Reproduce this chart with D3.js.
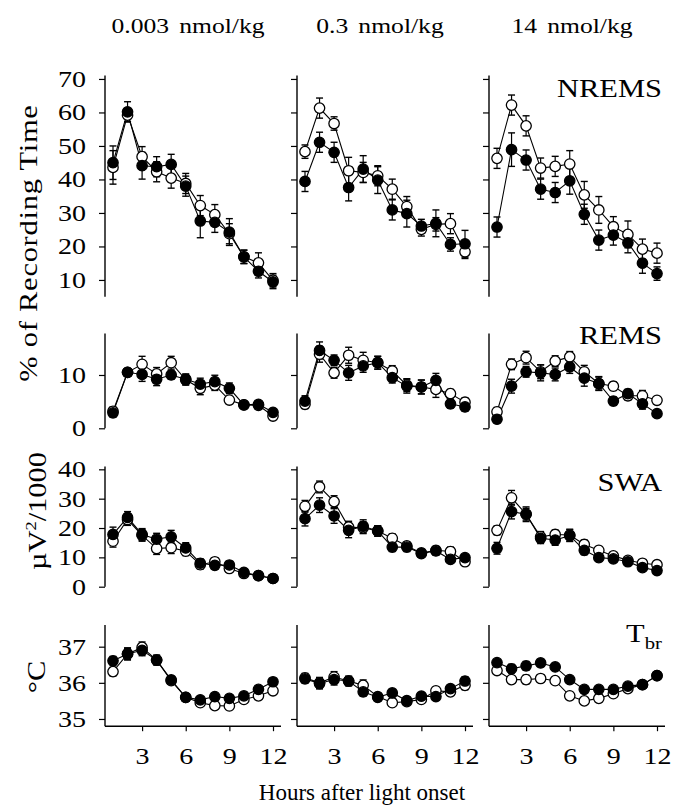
<!DOCTYPE html>
<html>
<head>
<meta charset="utf-8">
<script src="https://cdn.jsdelivr.net/npm/d3@7"></script>
<style>
body { margin: 0; background: #fff; }
text { font-family: "Liberation Serif", "Times New Roman", serif; fill: #000; }
</style>
</head>
<body>
<svg id="fig" width="674" height="810"></svg>
<script>
// hours after light onset
var hours = [1, 2, 3, 4, 5, 6, 7, 8, 9, 10, 11, 12];
var doses = ["0.003 nmol/kg", "0.3 nmol/kg", "14 nmol/kg"];
var xTicks = [3, 6, 9, 12];

// NREMS, % of recording time (one list per dose)
var nremsOpen = [
	[43.6, 59.2, 46.8, 42.3, 40.4, 38.8, 32.2, 29.5, 23.8, 16.9, 15.1, 9.9],
	[48.3, 61.3, 56.7, 42.6, 42.1, 41.1, 37.1, 31.9, 25.1, 26.6, 26.8, 18.4],
	[46.3, 62.2, 56.0, 43.4, 43.9, 44.6, 35.4, 30.9, 25.9, 23.6, 19.2, 18.0]
];
var nremsFilled = [
	[45.0, 60.2, 44.1, 43.8, 44.5, 38.0, 27.6, 27.2, 24.3, 16.9, 12.6, 9.4],
	[39.4, 51.1, 48.1, 37.6, 43.1, 39.8, 30.9, 29.8, 26.1, 26.9, 20.6, 20.8],
	[25.8, 48.9, 45.8, 37.1, 36.1, 39.6, 29.6, 21.9, 23.4, 21.1, 15.0, 11.9]
];
var nremsOpenSe = [
	[5, 2, 3, 3, 3, 3, 3, 3, 3, 2, 3, 2],
	[2, 3, 2, 4, 3, 3, 3, 3, 2, 2, 3, 2],
	[3, 3, 3, 3, 3, 4, 4, 4, 3, 4, 3, 3]
];
var nremsFilledSe = [
	[5, 3, 4, 3, 3, 3, 5, 3, 4, 2, 2, 2],
	[3, 3, 3, 4, 4, 4, 3, 4, 2, 4, 2, 4],
	[3, 5, 3, 3, 3, 4, 3, 3, 3, 3, 3, 2]
];

// REMS, % of recording time
var remsOpen = [
	[3.2, 10.5, 12.0, 10.2, 12.3, 9.1, 7.5, 8.1, 5.3, 4.4, 4.3, 2.3],
	[4.5, 13.9, 10.4, 13.7, 12.75, 12.3, 10.75, 8.1, 7.75, 7.3, 6.5, 4.9],
	[3.1, 12.0, 13.25, 10.6, 12.6, 13.4, 10.6, 8.4, 7.9, 6.1, 6.1, 5.25]
];
var remsFilled = [
	[2.9, 10.5, 10.1, 9.2, 10.0, 9.2, 8.3, 8.75, 7.5, 4.4, 4.5, 3.0],
	[5.1, 14.6, 12.75, 10.4, 11.7, 12.3, 9.5, 7.9, 7.75, 9.0, 4.6, 4.0],
	[1.7, 7.9, 10.6, 10.4, 10.1, 11.5, 9.4, 8.4, 5.1, 6.5, 4.6, 2.75]
];
var remsOpenSe = [
	[0.8, 0.7, 1.5, 1.2, 1.2, 1.0, 1.2, 1.0, 0.7, 0.6, 0.6, 0.6],
	[0.8, 1.5, 1.0, 1.5, 1.5, 1.2, 1.0, 1.2, 1.3, 1.5, 0.8, 0.8],
	[0.8, 1.0, 1.2, 1.3, 1.0, 1.0, 1.2, 1.2, 0.8, 0.8, 1.0, 0.7]
];
var remsFilledSe = [
	[0.8, 0.7, 1.3, 1.2, 0.8, 1.0, 1.1, 1.2, 1.0, 0.6, 0.6, 0.6],
	[1.0, 1.6, 1.0, 1.4, 1.2, 1.2, 1.0, 1.3, 1.3, 1.3, 0.8, 0.8],
	[0.7, 1.3, 1.0, 1.5, 1.2, 1.2, 1.5, 1.3, 0.8, 0.8, 1.0, 0.6]
];

// SWA, uV^2/1000
var swaOpen = [
	[15.5, 22.9, 17.5, 13.0, 13.3, 12.1, 7.5, 8.5, 6.2, 4.5, 3.8, 2.8],
	[27.4, 34.0, 29.0, 20.3, 20.1, 19.0, 16.5, 13.9, 11.5, 12.4, 12.0, 8.5],
	[19.2, 30.3, 24.7, 17.0, 17.8, 17.6, 14.4, 12.4, 10.5, 9.0, 8.0, 7.5]
];
var swaFilled = [
	[17.8, 23.6, 17.8, 16.2, 17.0, 13.2, 8.0, 7.3, 7.4, 4.9, 3.75, 2.8],
	[23.2, 27.8, 24.1, 19.2, 20.6, 19.0, 13.5, 13.5, 11.3, 12.2, 9.3, 9.9],
	[13.1, 25.6, 24.7, 16.5, 15.9, 17.4, 12.4, 9.9, 9.5, 8.5, 6.5, 5.5]
];
var swaOpenSe = [
	[2, 2, 2, 2, 2, 1.5, 1.5, 1.3, 1.2, 0.8, 0.8, 0.6],
	[2, 2, 2, 2, 2, 1.8, 1.5, 1.3, 1.3, 1.3, 1.5, 1],
	[1.5, 2.5, 2, 1.8, 1.5, 2, 1.5, 1.3, 1.2, 1, 1, 0.8]
];
var swaFilledSe = [
	[2.5, 2, 2, 2, 2.2, 1.8, 1.5, 1.3, 1.2, 0.8, 0.8, 0.6],
	[2.5, 2.5, 2.5, 2.5, 2.2, 1.8, 1.5, 1.5, 1.3, 1.5, 1.2, 1],
	[2, 2.5, 2.5, 1.8, 1.8, 2, 1.5, 1.3, 1.2, 1, 1, 0.8]
];

// brain temperature, deg C
var tbrOpen = [
	[36.31, 36.8, 36.98, 36.63, 36.06, 35.6, 35.45, 35.37, 35.36, 35.54, 35.64, 35.78],
	[36.14, 36.0, 36.16, 36.05, 35.93, 35.62, 35.45, 35.48, 35.54, 35.78, 35.75, 35.93],
	[36.34, 36.09, 36.09, 36.12, 36.06, 35.64, 35.5, 35.57, 35.7, 35.84, 35.95, 36.2]
];
var tbrFilled = [
	[36.61, 36.8, 36.9, 36.63, 36.08, 35.6, 35.53, 35.62, 35.57, 35.64, 35.82, 36.03],
	[36.11, 35.98, 36.09, 36.05, 35.75, 35.6, 35.72, 35.51, 35.63, 35.62, 35.84, 36.05],
	[36.56, 36.39, 36.47, 36.55, 36.44, 36.09, 35.82, 35.82, 35.82, 35.91, 35.95, 36.2]
];
var tbrOpenSe = [
	[0.12, 0.15, 0.15, 0.12, 0.1, 0.1, 0.08, 0.08, 0.1, 0.1, 0.1, 0.08],
	[0.12, 0.15, 0.15, 0.13, 0.15, 0.1, 0.1, 0.1, 0.1, 0.1, 0.1, 0.12],
	[0.08, 0.1, 0.12, 0.1, 0.08, 0.07, 0.06, 0.06, 0.06, 0.06, 0.06, 0.06]
];
var tbrFilledSe = [
	[0.12, 0.17, 0.15, 0.14, 0.1, 0.1, 0.08, 0.08, 0.1, 0.1, 0.1, 0.08],
	[0.12, 0.15, 0.15, 0.13, 0.12, 0.1, 0.1, 0.1, 0.1, 0.1, 0.1, 0.12],
	[0.08, 0.12, 0.12, 0.1, 0.08, 0.07, 0.06, 0.06, 0.06, 0.06, 0.06, 0.06]
];

var nremsTicks = [10, 20, 30, 40, 50, 60, 70];
var remsTicks = [0, 10];
var swaTicks = [0, 10, 20, 30, 40];
var tbrTicks = [35, 36, 37];

var rows = [
	{ name: "NREMS", open: nremsOpen, filled: nremsFilled, openSe: nremsOpenSe, filledSe: nremsFilledSe,
		domain: [5, 71], range: [296.7, 75.6], ticks: nremsTicks, labelY: 97 },
	{ name: "REMS", open: remsOpen, filled: remsFilled, openSe: remsOpenSe, filledSe: remsFilledSe,
		domain: [0, 17.8], range: [428.3, 333.4], ticks: remsTicks, labelY: 344 },
	{ name: "SWA", open: swaOpen, filled: swaFilled, openSe: swaOpenSe, filledSe: swaFilledSe,
		domain: [0, 41], range: [586.7, 466.4], ticks: swaTicks, labelY: 491 },
	{ name: "T", sub: "br", open: tbrOpen, filled: tbrFilled, openSe: tbrOpenSe, filledSe: tbrFilledSe,
		domain: [34.8, 37.6], range: [726.2, 625], ticks: tbrTicks, labelY: 642 }
];

var colLeft = [105, 297, 489];
var panelW = 176;
var K = 1.22; // the printed type is wider than Times, stretch it sideways
var svg = d3.select("#fig");

var x = d3.scaleLinear().domain([0.45, 12.55]).range([0, panelW]);

// plain text at (px,py), stretched sideways by k
function label(px, py, rot, size, str, k) {
	k = k || K;
	return svg.append("text")
		.attr("transform", "translate(" + px + "," + py + ")" + (rot ? " rotate(" + rot + ")" : "") + " scale(" + k + ",1)")
		.attr("font-size", size).text(str);
}

function styleTicks(sel, xoff) {
	sel.attr("font-size", 23).attr("font-family", null)
		.attr("transform", "scale(" + K + ",1)");
	if (xoff != null) sel.attr("x", xoff / K);
}

rows.forEach(function (row, ri) {
	var y = d3.scaleLinear().domain(row.domain).range(row.range);
	colLeft.forEach(function (L, ci) {
		var g = svg.append("g").attr("transform", "translate(" + L + ",0)");

		var yAxis = d3.axisLeft(y).tickValues(row.ticks).tickSize(6).tickPadding(13)
			.tickFormat(ci == 0 ? d3.format("d") : function () { return ""; });
		var ga = g.append("g").call(yAxis);
		ga.select(".domain").attr("d", "M0," + row.range[0] + "V" + row.range[1])
			.attr("stroke-width", 1.4);
		ga.selectAll(".tick line").attr("stroke-width", 1.2);
		styleTicks(ga.selectAll(".tick text"), -19);

		if (ri == rows.length - 1) {
			var xAxis = d3.axisBottom(x).tickValues(xTicks).tickSize(5).tickPadding(16).tickFormat(d3.format("d"));
			var gx = g.append("g").attr("transform", "translate(0," + row.range[0] + ")").call(xAxis);
			gx.select(".domain").attr("d", "M0,0H" + panelW).attr("stroke-width", 1.4);
			gx.selectAll(".tick line").attr("stroke-width", 1.2);
			styleTicks(gx.selectAll(".tick text"), null);
		}

		var series = [
			{ v: row.open[ci], se: row.openSe[ci], fill: "#fff" },
			{ v: row.filled[ci], se: row.filledSe[ci], fill: "#000" }
		];
		var line = d3.line().x(function (d, i) { return x(hours[i]); }).y(function (d) { return y(d); });

		series.forEach(function (s) {
			g.append("path").attr("d", line(s.v)).attr("fill", "none")
				.attr("stroke", "#000").attr("stroke-width", 1.1);
		});
		series.forEach(function (s) {
			var eb = g.append("g").selectAll("g").data(s.v).enter().append("g");
			eb.append("line")
				.attr("x1", function (d, i) { return x(hours[i]); })
				.attr("x2", function (d, i) { return x(hours[i]); })
				.attr("y1", function (d, i) { return y(d - s.se[i]); })
				.attr("y2", function (d, i) { return y(d + s.se[i]); })
				.attr("stroke", "#000").attr("stroke-width", 1.2);
			[-1, 1].forEach(function (sg) {
				eb.append("line")
					.attr("x1", function (d, i) { return x(hours[i]) - 3.5; })
					.attr("x2", function (d, i) { return x(hours[i]) + 3.5; })
					.attr("y1", function (d, i) { return y(d + sg * s.se[i]); })
					.attr("y2", function (d, i) { return y(d + sg * s.se[i]); })
					.attr("stroke", "#000").attr("stroke-width", 1.4);
			});
		});
		series.forEach(function (s) {
			g.append("g").selectAll("circle").data(s.v).enter().append("circle")
				.attr("cx", function (d, i) { return x(hours[i]); })
				.attr("cy", function (d) { return y(d); })
				.attr("r", 5.2)
				.attr("fill", s.fill)
				.attr("stroke", "#000").attr("stroke-width", 1.3);
		});
	});

	// row label, top right
	var t = label(662, row.labelY, 0, 25, row.name).attr("text-anchor", "end");
	if (row.sub) {
		t.text(null);
		t.append("tspan").text(row.name);
		t.append("tspan").attr("font-size", 17).attr("dy", 7).text(row.sub);
	}
});

// column titles
doses.forEach(function (d, i) {
	label(colLeft[i] + panelW / 2 - 5, 33, 0, 21, d).attr("text-anchor", "middle")
		.style("word-spacing", "3px");
});

// axis titles
label(37, 243, -90, 25, "% of Recording Time").attr("text-anchor", "middle")
	.style("letter-spacing", "0.6px");

var sw = label(46, 511, -90, 25, null).attr("text-anchor", "middle");
sw.append("tspan").text("\u00b5V");
sw.append("tspan").attr("font-size", 15).attr("dy", -10).text("2");
sw.append("tspan").attr("dy", 10).text("/1000");

label(45, 677, -90, 25, "\u00b0C").attr("text-anchor", "middle");

label(362, 800, 0, 23, "Hours after light onset", 1).attr("text-anchor", "middle");
</script>
</body>
</html>
